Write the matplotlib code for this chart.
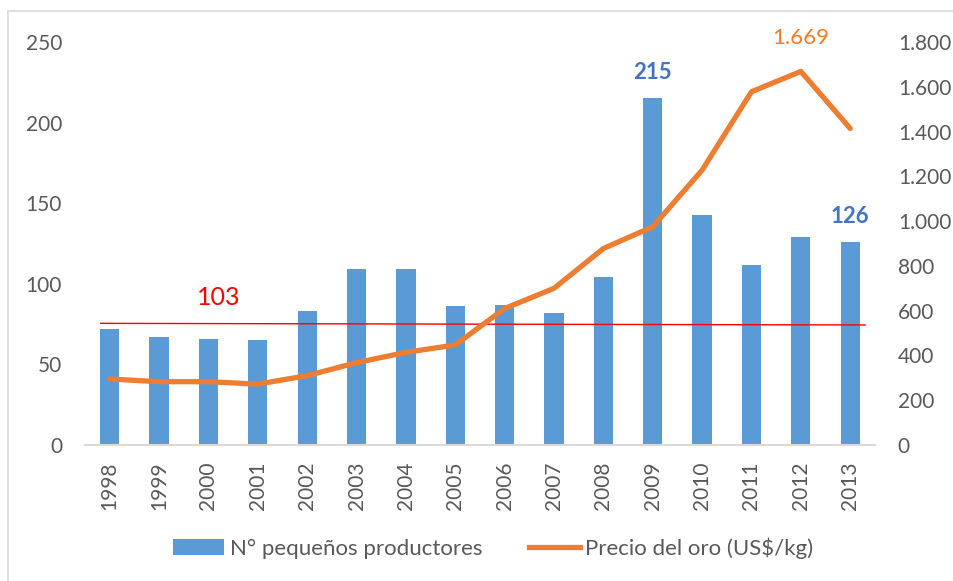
import matplotlib
matplotlib.use('Agg')
from matplotlib import pyplot as plt
from matplotlib.lines import Line2D
from matplotlib.patches import Patch

plt.rcParams['font.family'] = ['Lato', 'DejaVu Sans']

years = ['1998', '1999', '2000', '2001', '2002', '2003', '2004', '2005',
         '2006', '2007', '2008', '2009', '2010', '2011', '2012', '2013']
productores = [72, 67, 66, 65, 83, 109, 109, 86, 87, 82, 104, 215, 143, 112, 129, 126]
precio_oro = [295, 283, 283, 272, 310, 368, 414, 447, 610, 700, 878, 975, 1228, 1578, 1669, 1414]
left_ticks = [0, 50, 100, 150, 200, 250]
right_ticks = [0, 200, 400, 600, 800, 1000, 1200, 1400, 1600, 1800]
right_labels = ['0', '200', '400', '600', '800', '1.000', '1.200', '1.400', '1.600', '1.800']
ref_x = [-0.18, 15.3]
ref_y = [75.5, 74.5]

gray = '#595959'
fig = plt.figure(figsize=(9.54, 5.81), dpi=100)
ax1 = fig.add_axes([0.0891, 0.234, 0.828, 0.6936])
x = list(range(len(years)))

ax1.bar(x, productores, width=0.39, color='#5B9BD5', zorder=2)
ax1.plot(ref_x, ref_y, color='red', lw=1, zorder=4)
ax1.set_xlim(-0.5, 15.5)
ax1.set_ylim(0, 250)
ax1.set_yticks(left_ticks)
ax1.set_xticks(x)
ax1.set_xticklabels(years, rotation=90)
ax1.tick_params(axis='y', length=0, pad=16.5, labelsize=15, labelcolor=gray)
ax1.tick_params(axis='x', length=0, pad=12, labelsize=15, labelcolor=gray)
for s in ['top', 'right', 'left']:
    ax1.spines[s].set_visible(False)
ax1.spines['bottom'].set_color('#D9D9D9')
ax1.spines['bottom'].set_linewidth(1.5)

ax2 = ax1.twinx()
ax2.plot(x, precio_oro, color='#ED7D31', lw=3.8, solid_capstyle='round', zorder=3)
ax2.set_ylim(0, 1800)
ax2.set_yticks(right_ticks)
ax2.set_yticklabels(right_labels)
ax2.tick_params(axis='y', length=0, pad=16.5, labelsize=15, labelcolor=gray)
for s in ['top', 'right', 'left', 'bottom']:
    ax2.spines[s].set_visible(False)

# etiquetas de datos
ax1.text(11, productores[11] + 16, str(productores[11]), color='#4472C4', fontsize=16,
         fontweight='bold', ha='center', va='center')
ax1.text(15, productores[15] + 16, str(productores[15]), color='#4472C4', fontsize=16,
         fontweight='bold', ha='center', va='center')
ax2.text(14, precio_oro[14] + 150, '1.669', color='#F47B20', fontsize=16,
         ha='center', va='center')
ax1.text(2.2, 91.4, '103', color='red', fontsize=18, ha='center', va='center')

handles = [Patch(facecolor='#5B9BD5'), Line2D([0], [0], color='#ED7D31', lw=3.8)]
fig.legend(handles, ['N° pequeños productores', 'Precio del oro (US$/kg)'],
           loc='center', bbox_to_anchor=(0.517, 1 - 548 / 581), ncol=2, frameon=False,
           fontsize=16, labelcolor=gray, handlelength=2.3, handletextpad=0.25,
           columnspacing=2.1)

# marco del grafico
fig.add_artist(Line2D([8 / 954, 1], [1 - 11 / 581, 1 - 11 / 581], color='#D9D9D9', lw=1.2))
fig.add_artist(Line2D([8 / 954, 8 / 954], [0, 1 - 11 / 581], color='#D9D9D9', lw=1.2))

fig.savefig('out.png', dpi=100)
